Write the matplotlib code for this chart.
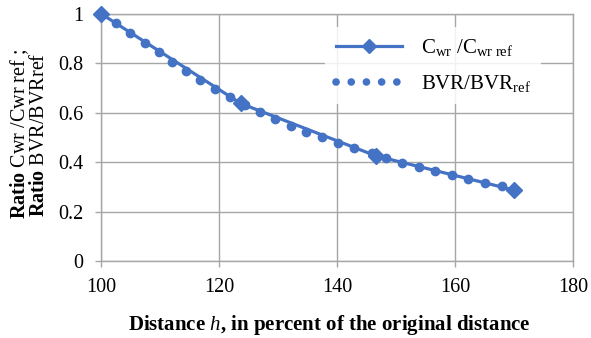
import matplotlib
matplotlib.use("Agg")
import matplotlib.pyplot as plt
from matplotlib.lines import Line2D

plt.rcParams['font.family'] = ['Liberation Serif', 'DejaVu Serif']
plt.rcParams['mathtext.fontset'] = 'custom'
plt.rcParams['mathtext.rm'] = 'Liberation Serif'
plt.rcParams['mathtext.it'] = 'Liberation Serif:italic'
plt.rcParams['mathtext.bf'] = 'Liberation Serif:bold'

# Series 1: Cwr / Cwr ref
cwr_x = [100, 123.6, 146.6, 170.0]
cwr_y = [1.0, 0.638, 0.425, 0.287]

# Series 2: BVR / BVR ref
bvr_x = [100, 102.4, 104.8, 107.3, 109.7, 112.0, 114.3, 116.7, 119.2, 121.8,
         124.3, 126.9, 129.5, 132.2, 134.7, 137.4, 140.1, 142.9, 145.8, 148.3,
         151.0, 153.9, 156.6, 159.5, 162.2, 165.1, 167.9]
bvr_y = [1.0, 0.962, 0.922, 0.884, 0.845, 0.807, 0.769, 0.733, 0.696, 0.665,
         0.632, 0.602, 0.574, 0.548, 0.523, 0.501, 0.479, 0.456, 0.438, 0.416,
         0.397, 0.381, 0.363, 0.348, 0.332, 0.317, 0.304]

x_ticks = [100, 120, 140, 160, 180]
y_ticks = [0, 0.2, 0.4, 0.6, 0.8, 1.0]
y_ticklabels = ['0', '0.2', '0.4', '0.6', '0.8', '1']

blue = '#4472C4'
grid = '#A6A6A6'

fig = plt.figure(figsize=(5.91, 3.38), dpi=100)
ax = fig.add_axes([0.1717, 0.2278, 0.7983, 0.7308])

ax.plot(bvr_x, bvr_y, linestyle='none', marker='o', markersize=6,
        color=blue, zorder=3, clip_on=False)
ax.plot(cwr_x, cwr_y, linestyle='-', linewidth=2.3, marker='D', markersize=8.5,
        color=blue, zorder=4, clip_on=False)

ax.set_xlim(100, 180)
ax.set_ylim(0, 1)
ax.set_xticks(x_ticks)
ax.set_yticks(y_ticks)
ax.set_yticklabels(y_ticklabels)
ax.grid(True, color=grid, linewidth=1.0)
ax.set_axisbelow(True)
for s in ax.spines.values():
    s.set_color(grid)
    s.set_linewidth(1.0)
ax.tick_params(axis='both', colors=grid, length=4, width=1.0, labelsize=14.5,
               labelcolor='black', direction='out')
ax.tick_params(axis='x', pad=8)
ax.tick_params(axis='y', pad=9)
for lab in ax.get_xticklabels() + ax.get_yticklabels():
    lab.set_color('black')
    lab.set_family('Liberation Serif')

fig.text(0.557, 0.038,
         r'Distance $\mathbf{\mathit{h}}$, in percent of the original distance',
         fontsize=15, fontweight='bold', ha='center', va='center')
fig.text(0.049, 0.603,
         r'$\mathbf{Ratio}$ Cwr /Cwr ref ;' + '\n' + r'$\mathbf{Ratio}$ BVR/BVRref',
         rotation=90, fontsize=14.5, ha='center', va='center',
         multialignment='center', linespacing=0.95)

h1 = Line2D([0, 1, 2], [0, 0, 0], color=blue, linewidth=2.3, marker='D',
            markersize=7, markevery=[1])
h2 = Line2D([], [], color=blue, linewidth=5.5, linestyle=(0, (0.01, 1.98)),
            dash_capstyle='round')
leg = ax.legend([h1, h2],
                [r'C$_{\mathrm{wr}}$ /C$_{\mathrm{wr\ ref}}$',
                 r'BVR/BVR$_{\mathrm{ref}}$'],
                loc='upper left', bbox_to_anchor=(0.452, 0.99),
                fontsize=15, handlelength=3.2, handletextpad=0.9,
                labelspacing=0.7, frameon=True, framealpha=0.85,
                edgecolor='none', facecolor='white', borderpad=0.5)

fig.savefig('out.png', dpi=100)
